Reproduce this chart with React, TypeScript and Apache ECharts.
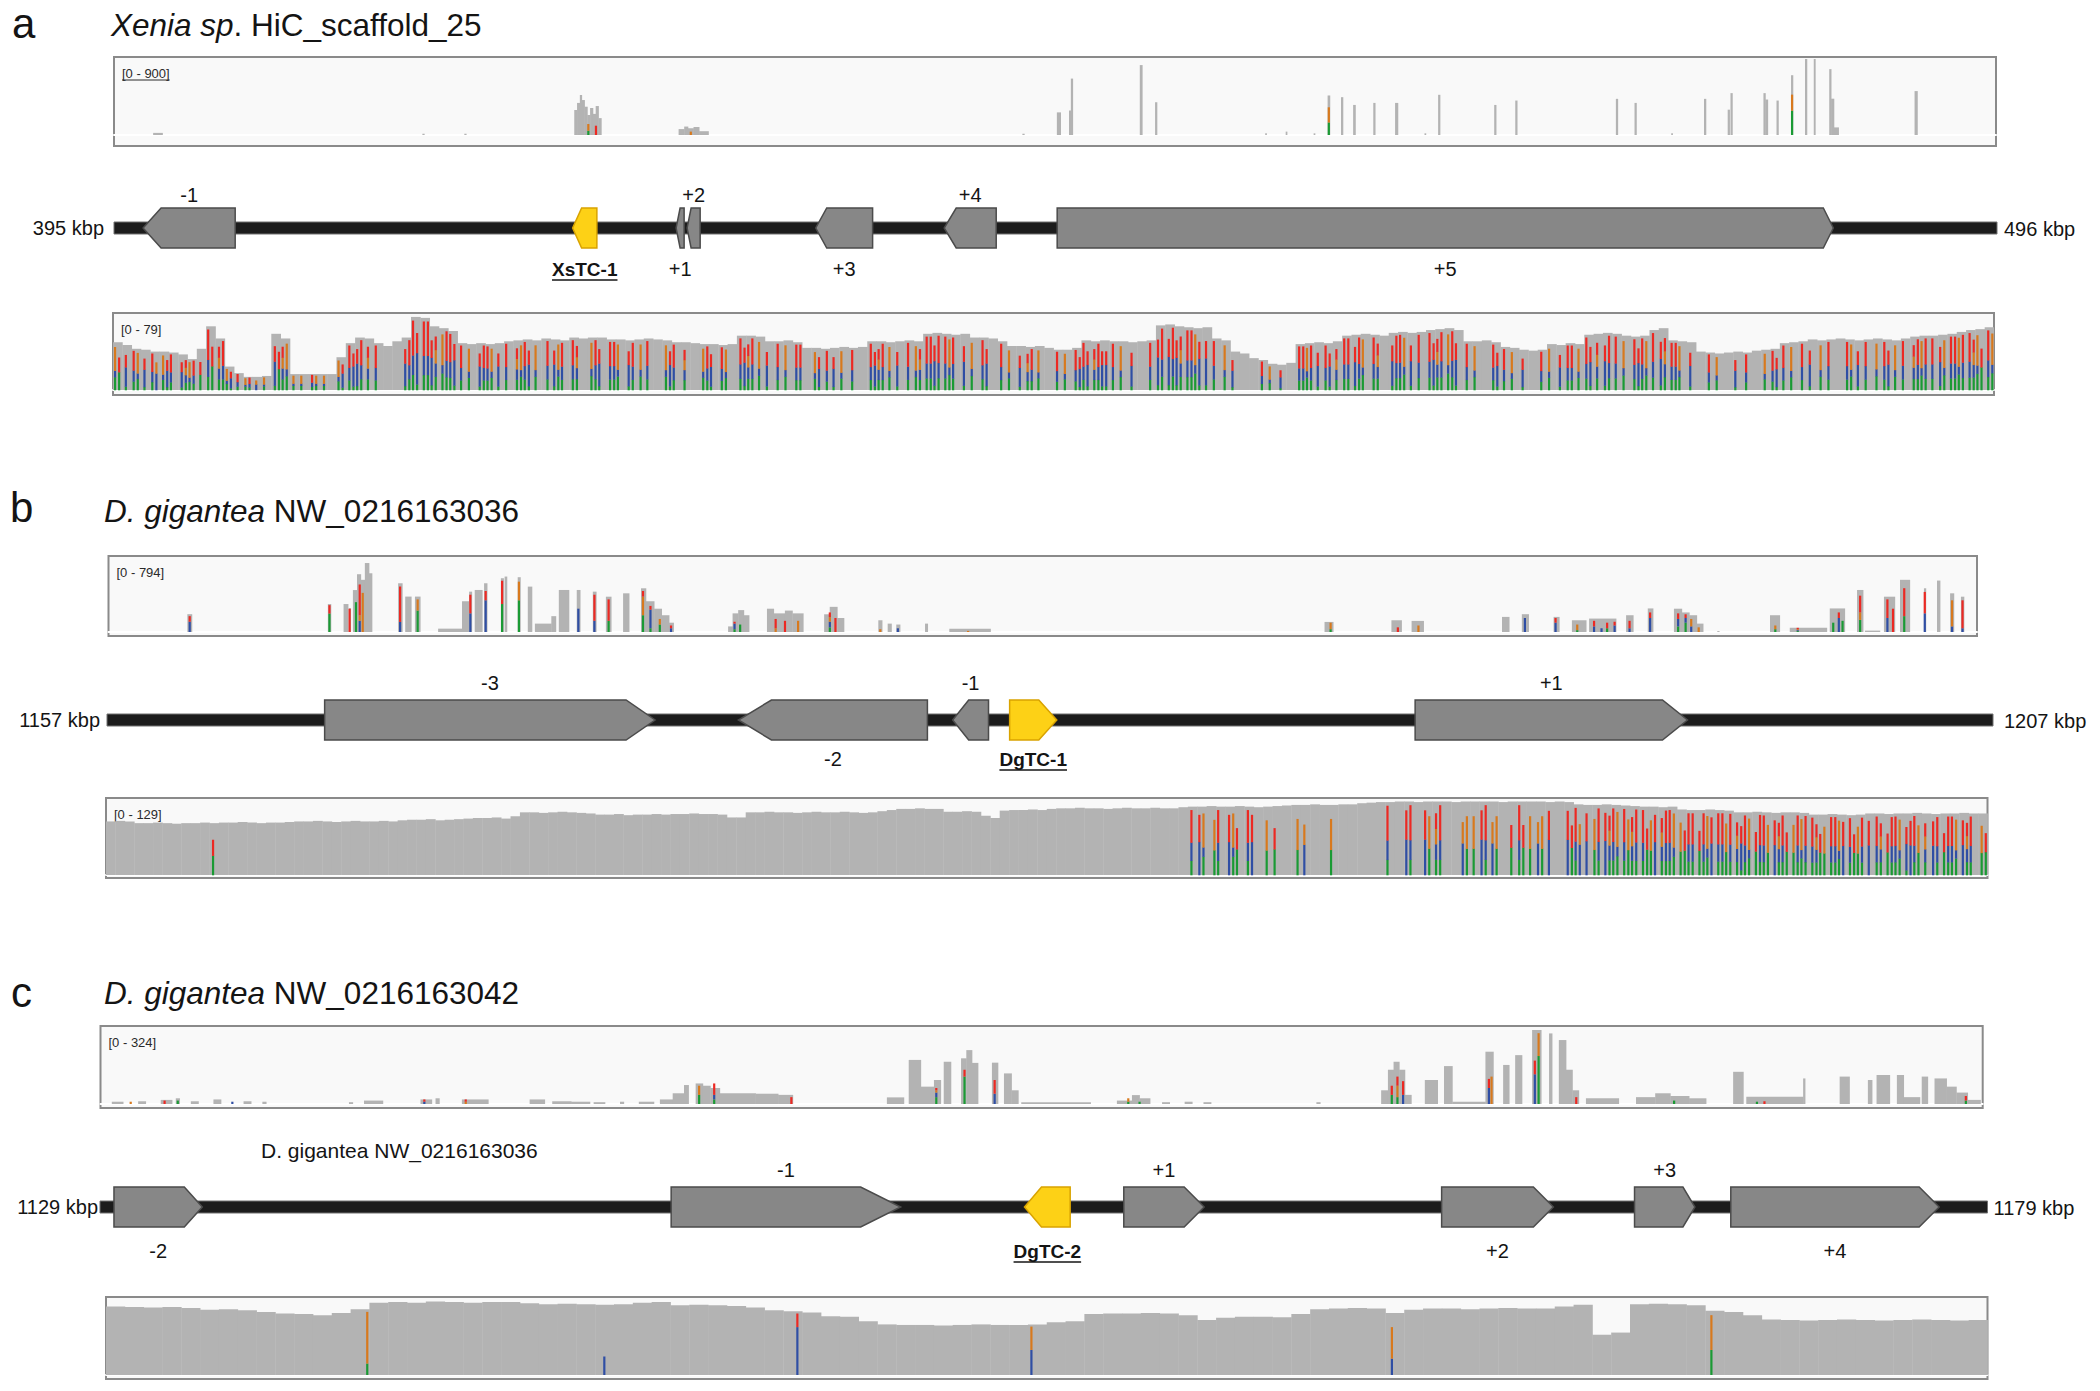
import React, { useEffect, useRef } from 'react';
import * as echarts from 'echarts';

const FONT = '"Liberation Sans", Arial, Helvetica, sans-serif';
const INK = '#141414';
const COV_GREY = '#b3b3b3';
// A (green), C (blue), G (orange), T (red) — stacked bottom to top
const BASE_COLORS = ['#1a9a34', '#2f4ea4', '#d8791d', '#ec2923'];

// ====================== DATA ======================
const LETTERS = ['a', 'b', 'c'];
const TITLE_ITALIC = ['Xenia sp', 'D. gigantea', 'D. gigantea'];
const TITLE_PLAIN = ['. HiC_scaffold_25', ' NW_0216163036', ' NW_0216163042'];
const NOTE_C = 'D. gigantea NW_0216163036';
const SCALE_MAX = [900, 79, 794, 129, 324, 136];

const RANGE_A = [395, 496];
const RANGE_B = [1157, 1207];
const RANGE_C = [1129, 1179];

// genes: [name, start kbp, end kbp, strand, label side (1 above / -1 below)]
const GENES_A: any[] = [
  ['-1', 396.56, 401.5, -1, 1],
  ['XsTC-1', 419.6, 420.9, -1, -1],
  ['+1', 425.15, 425.58, -1, -1],
  ['+2', 425.74, 426.44, -1, 1],
  ['+3', 432.64, 435.69, -1, -1],
  ['+4', 439.53, 442.32, -1, 1],
  ['+5', 445.59, 487.22, 1, -1],
];
const GENES_B: any[] = [
  ['-3', 1162.77, 1171.53, 1, 1],
  ['-2', 1173.74, 1178.75, -1, -1],
  ['-1', 1179.42, 1180.37, -1, 1],
  ['DgTC-1', 1180.93, 1182.18, 1, -1],
  ['+1', 1191.68, 1198.9, 1, 1],
];
const GENES_C: any[] = [
  ['-2', 1129.37, 1131.71, 1, -1],
  ['-1', 1144.13, 1150.21, 1, 1],
  ['DgTC-2', 1153.49, 1154.7, -1, -1],
  ['+1', 1156.12, 1158.25, 1, 1],
  ['+2', 1164.54, 1167.5, 1, -1],
  ['+3', 1169.65, 1171.25, 1, 1],
  ['+4', 1172.2, 1177.72, 1, -1],
];

// sparse coverage tracks: [start kbp, end kbp, depth]
const A_TOP_READS = [
  [397.1, 397.6, 25], [411.55, 411.65, 15], [413.8, 413.9, 15],
  [419.7, 419.85, 296], [419.85, 420.0, 380], [420.0, 420.1, 474], [420.1, 420.25, 414], [420.25, 420.4, 335],
  [420.4, 420.55, 237], [420.55, 420.7, 320], [420.7, 420.85, 250], [420.85, 421.0, 343], [421.0, 421.15, 200],
  [425.3, 425.6, 70], [425.6, 425.8, 100], [425.8, 426.1, 80], [426.1, 426.4, 95], [426.4, 426.9, 45],
  [443.75, 443.85, 15], [445.6, 445.8, 268], [446.25, 446.35, 290], [446.35, 446.45, 668],
  [450.05, 450.18, 828], [450.87, 450.97, 388], [456.78, 456.85, 20], [457.88, 457.95, 40], [459.38, 459.45, 20],
  [460.13, 460.25, 468], [460.85, 460.95, 448], [461.5, 461.62, 356], [462.58, 462.68, 380], [463.75, 463.9, 380],
  [465.33, 465.4, 20], [466.06, 466.16, 476], [469.07, 469.17, 356], [470.2, 470.3, 408], [475.6, 475.7, 428],
  [476.6, 476.7, 380], [478.57, 478.64, 20], [480.33, 480.43, 428], [481.6, 481.7, 300], [481.75, 481.85, 496],
  [483.52, 483.62, 496], [483.62, 483.75, 420], [484.22, 484.32, 408], [485.0, 485.1, 708], [485.75, 485.85, 900],
  [486.22, 486.3, 900], [487.05, 487.15, 780], [487.15, 487.3, 430], [487.3, 487.55, 90], [491.63, 491.78, 520],
];
// mismatch stripes: [kbp, A, C, G, T depth]
const A_TOP_SNV = [
  [420.45, 50, 0, 80, 0], [420.86, 0, 0, 0, 110], [425.95, 0, 0, 40, 0], [460.19, 148, 0, 180, 0], [485.05, 288, 0, 190, 0],
];

const B_TOP_READS = [
  [1159.11, 1159.23, 191], [1162.87, 1162.95, 300], [1163.29, 1163.41, 300], [1163.43, 1163.48, 255],
  [1163.54, 1163.65, 450], [1163.65, 1163.75, 620], [1163.75, 1163.86, 560], [1163.86, 1163.97, 740], [1163.97, 1164.05, 630],
  [1164.75, 1164.86, 523], [1164.94, 1165.1, 380], [1165.2, 1165.34, 380], [1165.82, 1166.46, 36], [1166.46, 1166.65, 330],
  [1166.65, 1166.72, 433], [1166.8, 1167.0, 451], [1167.05, 1167.13, 523], [1167.5, 1167.57, 577], [1167.6, 1167.66, 595],
  [1167.95, 1168.02, 588], [1168.22, 1168.33, 487], [1168.41, 1168.85, 90], [1168.85, 1168.97, 170], [1169.05, 1169.32, 451],
  [1169.53, 1169.62, 451], [1169.96, 1170.05, 433], [1170.31, 1170.45, 379], [1170.77, 1170.93, 415], [1171.25, 1171.38, 469],
  [1171.38, 1171.6, 330], [1171.6, 1171.8, 250], [1171.8, 1172.0, 180], [1172.0, 1172.12, 100],
  [1173.58, 1173.7, 60], [1173.7, 1173.85, 200], [1173.85, 1174.0, 235], [1174.0, 1174.14, 180],
  [1174.62, 1174.8, 250], [1174.8, 1175.1, 200], [1175.1, 1175.3, 230], [1175.3, 1175.59, 200],
  [1176.15, 1176.3, 190], [1176.3, 1176.5, 270], [1176.5, 1176.68, 150],
  [1177.6, 1177.7, 126], [1177.85, 1177.95, 90], [1178.08, 1178.18, 80], [1178.85, 1178.92, 90], [1179.5, 1180.6, 36],
  [1189.54, 1189.77, 108], [1191.33, 1191.6, 126], [1191.87, 1192.19, 119], [1194.29, 1194.48, 162], [1194.82, 1195.0, 191],
  [1195.67, 1195.82, 162], [1196.16, 1196.54, 126], [1196.62, 1197.34, 144], [1197.61, 1197.8, 180], [1198.19, 1198.33, 253],
  [1198.89, 1199.1, 250], [1199.1, 1199.3, 210], [1199.3, 1199.5, 180], [1199.5, 1199.67, 90], [1200.05, 1200.1, 10],
  [1201.46, 1201.72, 180], [1201.99, 1202.98, 45], [1203.06, 1203.46, 253], [1203.79, 1203.95, 451], [1204.0, 1204.4, 15],
  [1204.51, 1204.8, 379], [1204.94, 1205.2, 560], [1205.58, 1205.63, 469], [1205.93, 1206.01, 552], [1206.28, 1206.38, 415],
  [1206.57, 1206.65, 379],
];
const B_TOP_SNV = [
  [1159.17, 0, 110, 0, 60], [1162.91, 198, 0, 0, 90], [1163.45, 0, 0, 0, 250], [1163.62, 320, 0, 0, 0],
  [1163.72, 0, 120, 60, 330], [1163.8, 0, 0, 420, 0], [1164.8, 0, 108, 0, 380], [1165.27, 230, 0, 120, 0],
  [1166.68, 0, 200, 0, 200], [1167.09, 0, 340, 0, 100], [1167.53, 300, 0, 0, 250], [1167.98, 340, 0, 200, 0],
  [1169.57, 0, 250, 0, 0], [1170.0, 0, 120, 0, 280], [1170.38, 120, 0, 0, 230], [1171.3, 180, 0, 200, 60],
  [1171.5, 40, 200, 0, 40], [1171.75, 80, 0, 60, 0], [1172.05, 0, 40, 0, 30], [1173.75, 30, 60, 0, 20],
  [1173.9, 80, 0, 0, 0], [1174.85, 0, 0, 40, 100], [1175.1, 0, 0, 0, 120], [1175.45, 0, 0, 120, 0],
  [1176.3, 50, 60, 50, 50], [1176.45, 0, 0, 0, 150], [1177.65, 0, 0, 30, 0], [1178.12, 0, 40, 0, 0],
  [1180.0, 0, 0, 12, 0], [1189.7, 30, 0, 70, 0], [1191.5, 0, 0, 0, 50], [1192.05, 0, 0, 70, 0],
  [1194.9, 0, 150, 0, 0], [1195.72, 0, 100, 0, 50], [1196.3, 20, 0, 60, 0], [1196.75, 0, 60, 0, 60],
  [1196.95, 0, 40, 0, 0], [1197.1, 40, 0, 0, 60], [1197.3, 0, 70, 0, 40], [1197.7, 0, 40, 0, 80],
  [1198.25, 0, 150, 0, 60], [1199.0, 60, 80, 0, 60], [1199.2, 100, 50, 0, 40], [1199.35, 0, 60, 80, 0],
  [1199.55, 0, 0, 50, 0], [1201.6, 30, 0, 40, 0], [1202.2, 10, 10, 10, 15], [1203.15, 100, 0, 0, 0],
  [1203.3, 0, 150, 0, 60], [1203.4, 120, 0, 0, 0], [1203.87, 130, 0, 80, 180], [1204.6, 0, 150, 0, 200],
  [1204.75, 0, 0, 0, 250], [1205.05, 170, 0, 0, 300], [1205.6, 0, 200, 0, 230], [1206.33, 0, 60, 280, 0],
  [1206.61, 0, 40, 0, 300],
];

const C_TOP_READS = [
  [1129.3, 1129.6, 10], [1130.0, 1130.2, 12], [1130.6, 1130.9, 18], [1131.0, 1131.1, 25], [1131.4, 1131.6, 12],
  [1132.0, 1132.2, 20], [1132.8, 1133.0, 12], [1133.3, 1133.4, 10], [1135.6, 1135.7, 8], [1136.0, 1136.5, 15],
  [1137.5, 1137.8, 20], [1137.9, 1138.0, 25], [1138.6, 1139.3, 20], [1140.4, 1140.8, 20], [1141.0, 1141.5, 12],
  [1141.5, 1142.0, 10], [1142.1, 1142.4, 8], [1142.8, 1142.9, 10], [1143.3, 1143.7, 10],
  [1143.86, 1144.2, 20], [1144.2, 1144.5, 47], [1144.5, 1144.62, 83], [1144.81, 1145.0, 90], [1145.0, 1145.2, 80],
  [1145.2, 1145.45, 70], [1145.45, 1146.4, 47], [1146.4, 1147.0, 45], [1147.0, 1147.39, 40], [1149.89, 1150.34, 29],
  [1150.47, 1150.79, 193], [1150.79, 1151.14, 76], [1151.14, 1151.32, 105], [1151.4, 1151.59, 185],
  [1151.86, 1152.0, 200], [1152.0, 1152.15, 236], [1152.15, 1152.31, 180], [1152.68, 1152.84, 181],
  [1153.0, 1153.2, 134], [1153.2, 1153.38, 60], [1153.46, 1155.3, 8], [1156.0, 1156.4, 15], [1156.4, 1156.6, 39],
  [1156.6, 1156.88, 25], [1157.2, 1157.4, 8], [1157.8, 1158.0, 10], [1158.3, 1158.5, 8], [1161.3, 1161.4, 8],
  [1163.02, 1163.2, 60], [1163.2, 1163.35, 150], [1163.35, 1163.5, 185], [1163.5, 1163.65, 150], [1163.65, 1163.82, 40],
  [1164.18, 1164.52, 105], [1164.69, 1164.91, 166], [1164.91, 1165.79, 10], [1165.79, 1166.0, 229],
  [1166.26, 1166.42, 171], [1166.58, 1166.76, 214], [1167.03, 1167.27, 324], [1167.48, 1167.56, 309],
  [1167.74, 1167.93, 280], [1167.93, 1168.1, 150], [1168.1, 1168.27, 60], [1168.46, 1169.33, 25],
  [1169.79, 1170.3, 30], [1170.3, 1170.7, 47], [1170.7, 1171.2, 35], [1171.2, 1171.65, 25], [1172.37, 1172.64, 141],
  [1172.72, 1174.23, 32], [1174.23, 1174.28, 112], [1175.2, 1175.46, 120], [1175.95, 1176.06, 105],
  [1176.18, 1176.53, 127], [1176.72, 1176.9, 127], [1176.9, 1177.33, 30], [1177.38, 1177.54, 120],
  [1177.72, 1178.04, 112], [1178.04, 1178.3, 76], [1178.3, 1178.6, 50], [1178.6, 1178.94, 18],
];
const C_TOP_SNV = [
  [1129.8, 0, 0, 10, 0], [1130.7, 0, 0, 0, 15], [1131.05, 15, 0, 0, 0], [1132.5, 0, 10, 0, 0],
  [1137.6, 0, 10, 0, 10], [1138.7, 0, 0, 10, 10], [1144.9, 40, 0, 40, 0], [1145.3, 20, 20, 0, 50],
  [1147.35, 0, 0, 0, 30], [1151.2, 30, 20, 10, 10], [1151.95, 120, 0, 0, 30], [1152.75, 0, 45, 0, 60],
  [1156.3, 10, 0, 15, 0], [1156.6, 10, 0, 0, 0], [1163.3, 40, 0, 0, 40], [1163.45, 30, 0, 50, 40],
  [1163.6, 0, 40, 0, 60], [1165.88, 0, 70, 0, 40], [1165.95, 0, 0, 120, 0], [1167.1, 0, 130, 0, 60],
  [1167.2, 210, 0, 100, 0], [1168.2, 0, 0, 0, 30], [1170.8, 15, 0, 0, 0], [1173.0, 10, 0, 0, 0],
  [1173.2, 0, 0, 0, 12], [1178.55, 15, 0, 0, 20],
];

// dense coverage tracks: binned depth
const A_BOT_STEP = 0.5;
const A_BOT_COV = [
  51, 48, 44, 43, 41, 41, 40, 38, 33, 44,
  68, 55, 25, 18, 14, 14, 15, 60, 55, 17,
  17, 17, 17, 17, 35, 50, 56, 55, 50, 47,
  52, 56, 78, 77, 68, 66, 63, 50, 49, 50,
  49, 50, 52, 53, 54, 53, 55, 54, 53, 56,
  55, 56, 56, 54, 54, 53, 54, 55, 54, 53,
  51, 51, 50, 49, 49, 48, 49, 58, 58, 57,
  52, 52, 53, 51, 45, 45, 44, 45, 46, 45,
  46, 52, 52, 51, 52, 53, 52, 60, 61, 60,
  59, 60, 56, 56, 55, 52, 47, 47, 46, 47,
  45, 43, 43, 45, 53, 52, 53, 52, 52, 51,
  52, 53, 69, 70, 68, 67, 66, 67, 55, 53,
  41, 39, 34, 32, 28, 27, 29, 49, 50, 51,
  50, 52, 58, 59, 60, 59, 58, 61, 62, 61,
  62, 64, 65, 66, 64, 52, 52, 53, 51, 46,
  45, 43, 42, 43, 49, 48, 50, 49, 59, 60,
  61, 60, 58, 57, 58, 64, 66, 53, 52, 51,
  41, 40, 39, 40, 41, 40, 42, 43, 44, 50,
  51, 52, 54, 53, 54, 55, 54, 53, 54, 55,
  54, 53, 55, 57, 58, 58, 59, 60, 62, 64,
  65, 67,
];
// per-bin mismatch stripes (two slots per bin, letters index MIX, '.' = none)
const A_BOT_MIX_ROWS = [
  'OG B. RO B. RN OB R. BQ OR G.',
  'RG QR OB R. OR N. O. BG QO O.',
  'O. RO .O .. OB RB BR Q. R. ..',
  '.. BR RB RR BQ OR RB R. O. BR',
  'RO B. R. QO RB O. .R BO R. RQ',
  '.. OR B. RR O. BR .O R. .. OB',
  'R. Q. .. OR B. RO .. RB QR O.',
  'B. R. O. RR .. OB .R B. O. R.',
  '.. RB QR O. B. R. OQ RR BR RO',
  'R. B. O. RB .. R. O. B. QR O.',
  '.. R. O. RB RB QR BB R. O. B.',
  '.. R. BR BR BQ RR OB B. R. O.',
  'B. .. .. R. O. B. .. RR OR B.',
  'RB Q. RR BR O. RQ .. BR RO B.',
  'R. RB QR OR B. R. O. .. RB R.',
  'O. B. .. R. O. B. RR O. RB Q.',
  'BR R. O. RB RO R. BQ RR O. B.',
  '.. R. O. .. B. R. .. O. RB R.',
  'O. R. B. O. R. .. RO B. R. O.',
  'RB O. R. QR OR R. BO RR OR RQ',
  'OG RO',
];

const B_BOT_STEP = 0.25;
const B_BOT_COV = [
  94, 95, 94, 91, 91, 92, 91, 90, 91, 91,
  92, 91, 92, 92, 93, 92, 91, 92, 92, 93,
  94, 94, 95, 94, 93, 94, 95, 94, 94, 95,
  94, 96, 97, 97, 98, 96, 97, 98, 99, 100,
  100, 101, 99, 103, 110, 110, 109, 110, 111, 110,
  109, 108, 106, 106, 107, 105, 106, 106, 107, 106,
  107, 107, 108, 107, 107, 106, 101, 101, 110, 110,
  111, 110, 110, 109, 110, 111, 110, 110, 111, 110,
  109, 110, 112, 114, 116, 116, 117, 116, 116, 111,
  111, 112, 111, 104, 100, 113, 114, 114, 115, 114,
  116, 117, 117, 118, 117, 117, 116, 117, 118, 117,
  117, 118, 117, 117, 119, 120, 120, 121, 120, 120,
  121, 120, 119, 120, 121, 122, 123, 123, 124, 123,
  123, 124, 124, 126, 127, 128, 128, 129, 129, 128,
  129, 129, 129, 128, 129, 129, 129, 129, 128, 129,
  129, 129, 129, 128, 129, 128, 124, 123, 123, 124,
  123, 122, 121, 120, 120, 119, 120, 115, 114, 114,
  115, 114, 113, 110, 110, 111, 110, 109, 110, 110,
  109, 106, 106, 107, 106, 105, 106, 108, 108, 107,
  108, 108, 109, 108, 107, 108, 108, 109, 108, 108,
];
const B_BOT_MIX_SINGLE: [number, string][] = [[11, 'G.']];
const B_BOT_MIX_FROM = 115;
const B_BOT_MIX_ROWS = [
  'R. UO .F R. UO G. RU .. F. G.',
  '.. .F N. .. .. F. .. .. .. ..',
  '.. R. .. UR .. UF QR .. .. NF',
  'F. UR NF .. G. RG F. NF U. ..',
  'UG RN U. FR UQ RO RF QR RG FU',
  'QR RO FG RR GR OU RR FR QB RO',
  'GR RF UQ RG FR OR RQ GF RR OU',
  'RG FR U. RQ GR RO BU RF Q. UR',
  'GR RO UQ R. FG',
];

const C_BOT_STEP = 0.5;
const C_BOT_COV = [
  126, 125, 124, 125, 123, 120, 121, 119, 116, 113,
  112, 110, 114, 121, 133, 134, 133, 135, 134, 133,
  134, 134, 132, 130, 131, 130, 129, 130, 133, 134,
  128, 129, 128, 127, 124, 119, 117, 115, 108, 107,
  99, 93, 92, 92, 91, 92, 93, 92, 92, 93,
  97, 99, 112, 113, 113, 114, 113, 110, 101, 105,
  107, 107, 106, 112, 121, 122, 123, 122, 114, 120,
  122, 122, 121, 122, 123, 122, 122, 126, 129, 74,
  78, 130, 131, 130, 128, 118, 116, 110, 102, 101,
  100, 101, 102, 101, 100, 101, 102, 101, 100, 101,
];
const C_BOT_SNV = [
  [1135.94, 21, 0, 95, 0], [1142.24, 0, 34, 0, 0], [1147.37, 0, 88, 0, 25],
  [1153.59, 0, 46, 43, 0], [1163.17, 0, 30, 58, 0], [1171.66, 46, 0, 64, 0],
];

// stripe types: allele fractions [A, C, G, T] and fraction of depth covered by the stripe
const MIX: Record<string, number[]> = {
  R: [0.22, 0.28, 0, 0.5, 0.95],
  B: [0.1, 0.55, 0, 0.35, 0.78],
  O: [0.3, 0.15, 0.55, 0, 0.9],
  G: [0.55, 0, 0, 0.45, 0.68],
  Q: [0.25, 0.25, 0.25, 0.25, 0.84],
  N: [0, 0.6, 0.4, 0, 0.72],
  U: [0, 0.55, 0, 0.45, 0.88],
  F: [0.45, 0, 0.55, 0, 0.8],
};

// ====================== LAYOUT (styles) ======================
const TRACK_LAYOUT = [
  { left: 114, right: 1996, top: 57, bottom: 146, padT: 2, padB: 11 },
  { left: 113, right: 1994, top: 313, bottom: 395, padT: 3, padB: 5 },
  { left: 108.5, right: 1977, top: 556, bottom: 636, padT: 2, padB: 4 },
  { left: 106, right: 1987.5, top: 798, bottom: 878, padT: 3.5, padB: 3 },
  { left: 100.5, right: 1982.7, top: 1026, bottom: 1108, padT: 4, padB: 4 },
  { left: 106, right: 1987.5, top: 1297, bottom: 1379, padT: 4, padB: 4 },
];
const GENE_LAYOUT = [
  { left: 114, right: 1997, cy: 228, gapL: 10, gapR: 7, above: -33, below: 41, heads: [18, 9, 4, 4, 11, 12, 10] },
  { left: 107, right: 1993, cy: 720, gapL: 7, gapR: 11, above: -37, below: 39, heads: [29, 33, 16, 18, 25] },
  { left: 100, right: 1987.5, cy: 1207, gapL: 2, gapR: 6, above: -37, below: 44, heads: [18, 40, 17, 20, 20, 12, 20] },
];
const LETTER_POS = [[12, 23], [10, 507], [11, 992]];
const TITLE_POS = [[111, 25], [104, 511], [104, 993]];
const NOTE_POS = [261, 1150];
const STRIPE_W = 2.2;
const SLOT_POS = [[0.22, 0.66], [0.38, 0.82]];

// ====================== helpers ======================
let measureCtx: any = null;
function measure(text: string, font: string) {
  if (!measureCtx) measureCtx = document.createElement('canvas').getContext('2d');
  measureCtx.font = font;
  return measureCtx.measureText(text).width;
}

function binned(values: number[], start: number, step: number) {
  return values.map((v, i) => [start + i * step, start + (i + 1) * step, v]);
}

function greyRender(params: any, api: any) {
  const x0 = api.value(0), x1 = api.value(1), v = api.value(2);
  const a = api.coord([x0, v]);
  const b = api.coord([x1, 0]);
  const w = Math.max(b[0] - a[0], 1.2);
  return {
    type: 'rect',
    shape: { x: a[0], y: a[1], width: w + 0.4, height: b[1] - a[1] },
    style: { fill: COV_GREY },
  };
}

function snvRender(params: any, api: any) {
  const x = api.value(0);
  const children: any[] = [];
  let cum = 0;
  for (let j = 0; j < 4; j++) {
    const p = api.value(j + 1);
    if (!(p > 0)) continue;
    const t = api.coord([x, cum + p]);
    const b = api.coord([x, cum]);
    children.push({
      type: 'rect',
      shape: { x: t[0] - 1, y: t[1], width: 2.2, height: b[1] - t[1] },
      style: { fill: BASE_COLORS[j] },
    });
    cum += p;
  }
  return { type: 'group', children };
}

function codeRender(codes: string[]) {
  return (params: any, api: any) => {
    const idx = params.dataIndex;
    const code = codes[idx] || '..';
    const x0 = api.value(0), x1 = api.value(1), cov = api.value(2);
    const p0 = api.coord([x0, 0]);
    const p1 = api.coord([x1, 0]);
    const bw = p1[0] - p0[0];
    const slots = SLOT_POS[idx % 2];
    const children: any[] = [];
    for (let s = 0; s < 2; s++) {
      const m = MIX[code[s]];
      if (!m) continue;
      const cx = p0[0] + bw * slots[s];
      const tot = cov * m[4];
      let cum = 0;
      for (let j = 0; j < 4; j++) {
        if (!m[j]) continue;
        const v0 = cum, v1 = cum + m[j] * tot;
        cum = v1;
        const t = api.coord([x0, v1])[1];
        const b = api.coord([x0, v0])[1];
        children.push({
          type: 'rect',
          shape: { x: cx - STRIPE_W / 2, y: t, width: STRIPE_W, height: b - t + 0.3 },
          style: { fill: BASE_COLORS[j] },
        });
      }
    }
    return { type: 'group', children };
  };
}

function backboneRender(range: number[], lay: any) {
  return (params: any, api: any) => {
    const a = api.coord([range[0], 0]);
    const b = api.coord([range[1], 0]);
    return {
      type: 'group',
      children: [
        {
          type: 'rect',
          shape: { x: a[0], y: a[1] - 6, width: b[0] - a[0], height: 12 },
          style: { fill: '#1c1c1c', stroke: '#707070', lineWidth: 1 },
        },
        {
          type: 'text', x: a[0] - lay.gapL, y: a[1],
          style: { text: `${range[0]} kbp`, fill: INK, fontSize: 20, fontFamily: FONT, align: 'right', verticalAlign: 'middle' },
        },
        {
          type: 'text', x: b[0] + lay.gapR, y: b[1] + 1,
          style: { text: `${range[1]} kbp`, fill: INK, fontSize: 20, fontFamily: FONT, align: 'left', verticalAlign: 'middle' },
        },
      ],
    };
  };
}

function geneRender(genes: any[], lay: any) {
  return (params: any, api: any) => {
    const [name, start, end, strand, side] = genes[params.dataIndex];
    const head = lay.heads[params.dataIndex];
    const ps = api.coord([start, 0]);
    const pe = api.coord([end, 0]);
    const cy = ps[1];
    const h = 20;
    const x0 = ps[0], x1 = pe[0];
    const hd = Math.min(head, x1 - x0);
    const pts = strand > 0
      ? [[x0, cy - h], [x1 - hd, cy - h], [x1, cy], [x1 - hd, cy + h], [x0, cy + h]]
      : [[x1, cy - h], [x0 + hd, cy - h], [x0, cy], [x0 + hd, cy + h], [x1, cy + h]];
    const focus = /TC/.test(name);
    const cx = (x0 + x1) / 2;
    const ly = cy + (side > 0 ? lay.above : lay.below);
    const children: any[] = [
      {
        type: 'polygon',
        shape: { points: pts },
        style: {
          fill: focus ? '#fdd116' : '#878787',
          stroke: focus ? '#d9a300' : '#4b4b4b',
          lineWidth: 1.5,
        },
      },
      {
        type: 'text', x: cx, y: ly,
        style: {
          text: name, fill: INK, fontSize: focus ? 19 : 20, fontWeight: focus ? 'bold' : 'normal',
          fontFamily: FONT, align: 'center', verticalAlign: 'middle',
        },
      },
    ];
    if (focus) {
      const w = measure(name, `bold 19px ${FONT}`);
      children.push({
        type: 'line',
        shape: { x1: cx - w / 2, y1: ly + 11, x2: cx + w / 2, y2: ly + 11 },
        style: { stroke: INK, lineWidth: 1.6 },
      });
    }
    return { type: 'group', children };
  };
}

function buildOption() {
  const grids: any[] = [];
  const xAxes: any[] = [];
  const yAxes: any[] = [];
  const series: any[] = [];
  const graphics: any[] = [];

  const ranges = [RANGE_A, RANGE_B, RANGE_C];
  const genes = [GENES_A, GENES_B, GENES_C];

  const aCodes = A_BOT_MIX_ROWS.join(' ').split(' ');
  const bCodes = B_BOT_COV.map(() => '..');
  B_BOT_MIX_SINGLE.forEach(([i, c]) => { bCodes[i] = c; });
  B_BOT_MIX_ROWS.join(' ').split(' ').forEach((c, k) => { bCodes[B_BOT_MIX_FROM + k] = c; });

  const topReads = [A_TOP_READS, B_TOP_READS, C_TOP_READS];
  const topSnv = [A_TOP_SNV, B_TOP_SNV, C_TOP_SNV];
  const botData = [
    binned(A_BOT_COV, RANGE_A[0], A_BOT_STEP),
    binned(B_BOT_COV, RANGE_B[0], B_BOT_STEP),
    binned(C_BOT_COV, RANGE_C[0], C_BOT_STEP),
  ];

  const addTrack = (ti: number, range: number[]) => {
    const L = TRACK_LAYOUT[ti];
    const gi = grids.length;
    const H = L.bottom - L.top;
    const max = SCALE_MAX[ti];
    const k = max / (H - L.padT - L.padB);
    grids.push({
      left: L.left, top: L.top, width: L.right - L.left, height: H,
      show: true, backgroundColor: '#f9f9f9', borderColor: '#8a8a8a', borderWidth: 2,
    });
    xAxes.push({
      type: 'value', gridIndex: gi, min: range[0], max: range[1],
      axisLine: { show: true, onZero: true, lineStyle: { color: '#ffffff', width: 2 } },
      axisTick: { show: false }, axisLabel: { show: false }, splitLine: { show: false },
    });
    yAxes.push({ type: 'value', gridIndex: gi, min: -L.padB * k, max: max + L.padT * k, show: false });
    graphics.push({
      type: 'text', x: L.left + 8, y: L.top + 16,
      style: { text: `[0 - ${max}]`, fill: '#2a2a2a', fontSize: 13, fontFamily: FONT, verticalAlign: 'middle' },
    });
    if (ti === 0) {
      const w = measure(`[0 - ${max}]`, `13px ${FONT}`);
      graphics.push({
        type: 'line',
        shape: { x1: L.left + 8, y1: L.top + 23, x2: L.left + 8 + w, y2: L.top + 23 },
        style: { stroke: '#2a2a2a', lineWidth: 1 },
      });
    }
    return gi;
  };

  const addGene = (pi: number) => {
    const lay = GENE_LAYOUT[pi];
    const gi = grids.length;
    grids.push({ left: lay.left, top: lay.cy - 30, width: lay.right - lay.left, height: 60, show: false });
    xAxes.push({ type: 'value', gridIndex: gi, min: ranges[pi][0], max: ranges[pi][1], show: false });
    yAxes.push({ type: 'value', gridIndex: gi, min: -1, max: 1, show: false });
    series.push({
      type: 'custom', xAxisIndex: gi, yAxisIndex: gi, silent: true, clip: false, z: 2,
      data: [[ranges[pi][0], ranges[pi][1]]],
      renderItem: backboneRender(ranges[pi], lay),
    });
    series.push({
      type: 'custom', xAxisIndex: gi, yAxisIndex: gi, silent: true, clip: false, z: 3,
      data: genes[pi].map((g: any) => [g[1], g[2]]),
      renderItem: geneRender(genes[pi], lay),
    });
  };

  for (let pi = 0; pi < 3; pi++) {
    const range = ranges[pi];
    const gTop = addTrack(pi * 2, range);
    series.push({
      type: 'custom', xAxisIndex: gTop, yAxisIndex: gTop, silent: true, clip: true,
      data: topReads[pi], renderItem: greyRender,
    });
    series.push({
      type: 'custom', xAxisIndex: gTop, yAxisIndex: gTop, silent: true, clip: true, z: 3,
      data: topSnv[pi], renderItem: snvRender,
    });
    addGene(pi);
    const gBot = addTrack(pi * 2 + 1, range);
    series.push({
      type: 'custom', xAxisIndex: gBot, yAxisIndex: gBot, silent: true, clip: true,
      data: botData[pi], renderItem: greyRender,
    });
    if (pi === 0 || pi === 1) {
      series.push({
        type: 'custom', xAxisIndex: gBot, yAxisIndex: gBot, silent: true, clip: true, z: 3,
        data: botData[pi], renderItem: codeRender(pi === 0 ? aCodes : bCodes),
      });
    } else {
      series.push({
        type: 'custom', xAxisIndex: gBot, yAxisIndex: gBot, silent: true, clip: true, z: 3,
        data: C_BOT_SNV, renderItem: snvRender,
      });
    }
  }

  for (let pi = 0; pi < 3; pi++) {
    graphics.push({
      type: 'text', x: LETTER_POS[pi][0], y: LETTER_POS[pi][1],
      style: { text: LETTERS[pi], fill: INK, fontSize: 42, fontFamily: FONT, verticalAlign: 'middle' },
    });
    graphics.push({
      type: 'text', x: TITLE_POS[pi][0], y: TITLE_POS[pi][1],
      style: {
        text: `{i|${TITLE_ITALIC[pi]}}{n|${TITLE_PLAIN[pi]}}`,
        verticalAlign: 'middle',
        rich: {
          i: { fontStyle: 'italic', fontSize: 31.5, fontFamily: FONT, fill: INK },
          n: { fontSize: 31.5, fontFamily: FONT, fill: INK },
        },
      },
    });
  }
  graphics.push({
    type: 'text', x: NOTE_POS[0], y: NOTE_POS[1],
    style: { text: NOTE_C, fill: INK, fontSize: 21, fontFamily: FONT, verticalAlign: 'middle' },
  });

  return {
    animation: false,
    backgroundColor: '#ffffff',
    grid: grids,
    xAxis: xAxes,
    yAxis: yAxes,
    series,
    graphic: { elements: graphics },
  };
}

export default function App() {
  const ref = useRef<HTMLDivElement>(null);
  useEffect(() => {
    if (!ref.current) return;
    const chart = echarts.init(ref.current, null, { renderer: 'svg' });
    chart.setOption(buildOption() as any);
    return () => chart.dispose();
  }, []);
  return (
    <div
      ref={ref}
      style={{ position: 'absolute', left: 0, top: 0, width: 2100, height: 1391, background: '#ffffff' }}
    />
  );
}
